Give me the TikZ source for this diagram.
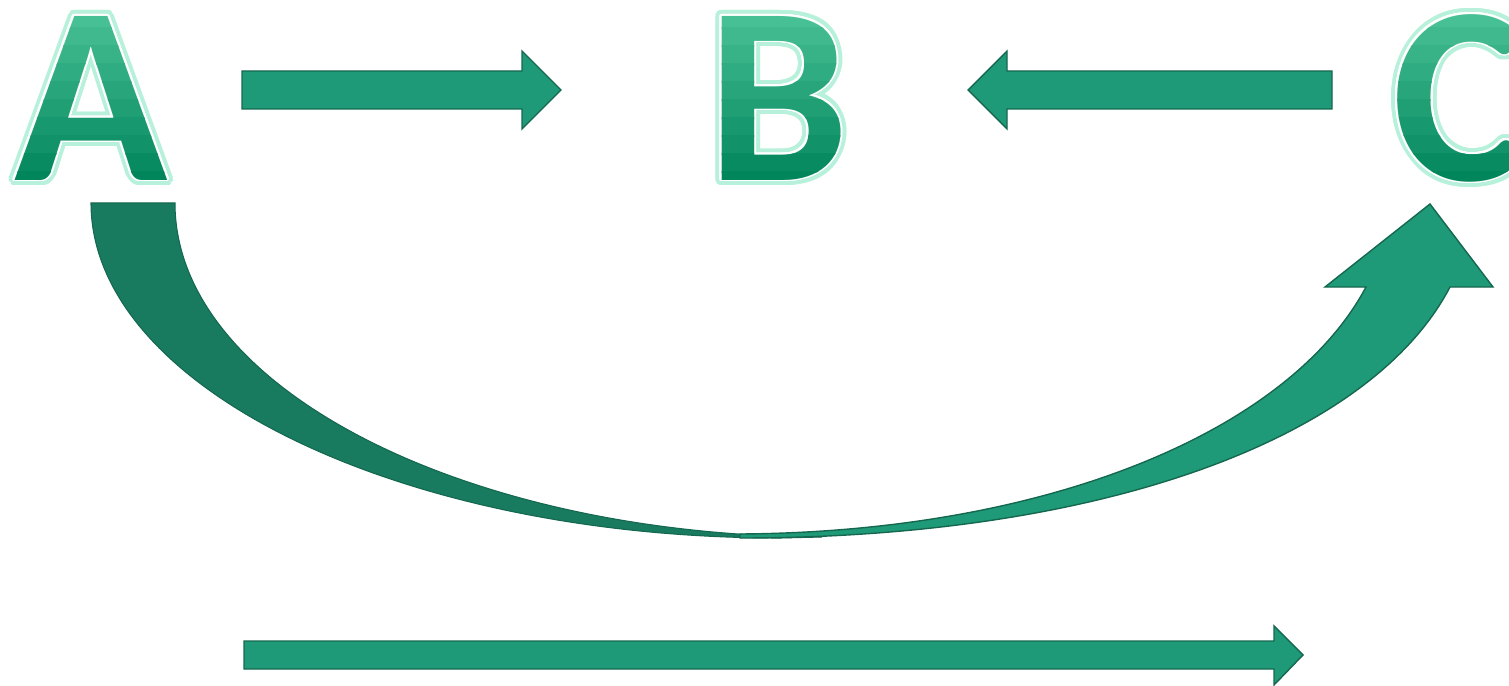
\documentclass[tikz,border=0pt]{standalone}
\usepackage{fontspec}
\setmainfont{Carlito}
\usepackage{xcolor}
\usepackage{tikz}
\usepackage[copies]{contour}
\usetikzlibrary{positioning}

\definecolor{lettop}{HTML}{48C095}
\definecolor{lettbot}{HTML}{00845A}
\definecolor{glow}{HTML}{B8F1DB}
\definecolor{arrowfill}{HTML}{1F9A78}
\definecolor{arrowdark}{HTML}{187A5E}
\definecolor{arrowedge}{HTML}{15684F}

\contournumber{24}

% big letter with glow, white rim and a banded gradient
\newcommand{\bigletter}[4]{%
  \node[letter, anchor=#4, text=white] (#1) at #2 {\contourlength{3.4pt}\contour{glow}{#3}};
  \node[letter, anchor=#4, text=white] (#1-rim) at #2 {\contourlength{1.1pt}\contour{white}{#3}};
  \foreach \i in {0,...,9} {
    \pgfmathtruncatemacro\pct{100-\i*11}
    \colorlet{bandcol}{lettop!\pct!lettbot}
    \begin{scope}
      \clip (0,{10+\i*18}) rectangle (1509,{29+\i*18});
      \node[letter, anchor=#4, text=bandcol] (#1-\i) at #2 {#3};
    \end{scope}
  }
}

\begin{document}
\begin{tikzpicture}[
    x=0.02cm, y=-0.02cm,
    letter/.style={font=\fontsize{144}{144}\selectfont\bfseries, inner sep=0pt},
    flat/.style={fill=arrowfill, draw=arrowedge, line width=0.8pt, line join=miter},
    flatdark/.style={fill=arrowdark, draw=arrowedge, line width=0.6pt}
]
    \useasboundingbox (0,0) rectangle (1509,686);

    % Letters
    \bigletter{A}{(91,180)}{A}{base}
    \bigletter{B}{(778,180)}{B}{base}
    \bigletter{C}{(1392,180)}{C}{base west}

    % Straight block arrows
    \draw[flat] (242,71) -- (522,71) -- (522,51) -- (561,90) -- (522,129)
        -- (522,109) -- (242,109) -- cycle;
    \draw[flat] (1332,71) -- (1007,71) -- (1007,51) -- (968,90) -- (1007,129)
        -- (1007,109) -- (1332,109) -- cycle;
    \draw[flat] (244,641) -- (1274,641) -- (1274,626) -- (1303,655) -- (1274,685)
        -- (1274,669) -- (244,669) -- cycle;

    % Curved arrow from A to C
    \draw[flatdark] (91,203) .. controls (91,387) and (400,538) .. (780,538)
        -- (822,537) .. controls (470,536) and (175,390) .. (175,203) -- cycle;
    \draw[flat] (740,538) .. controls (1100,538) and (1370,440) .. (1450,287)
        -- (1493,287) -- (1430,204) -- (1325,287) -- (1366,287)
        .. controls (1290,430) and (1050,532) .. (740,534) -- cycle;
\end{tikzpicture}
\end{document}
